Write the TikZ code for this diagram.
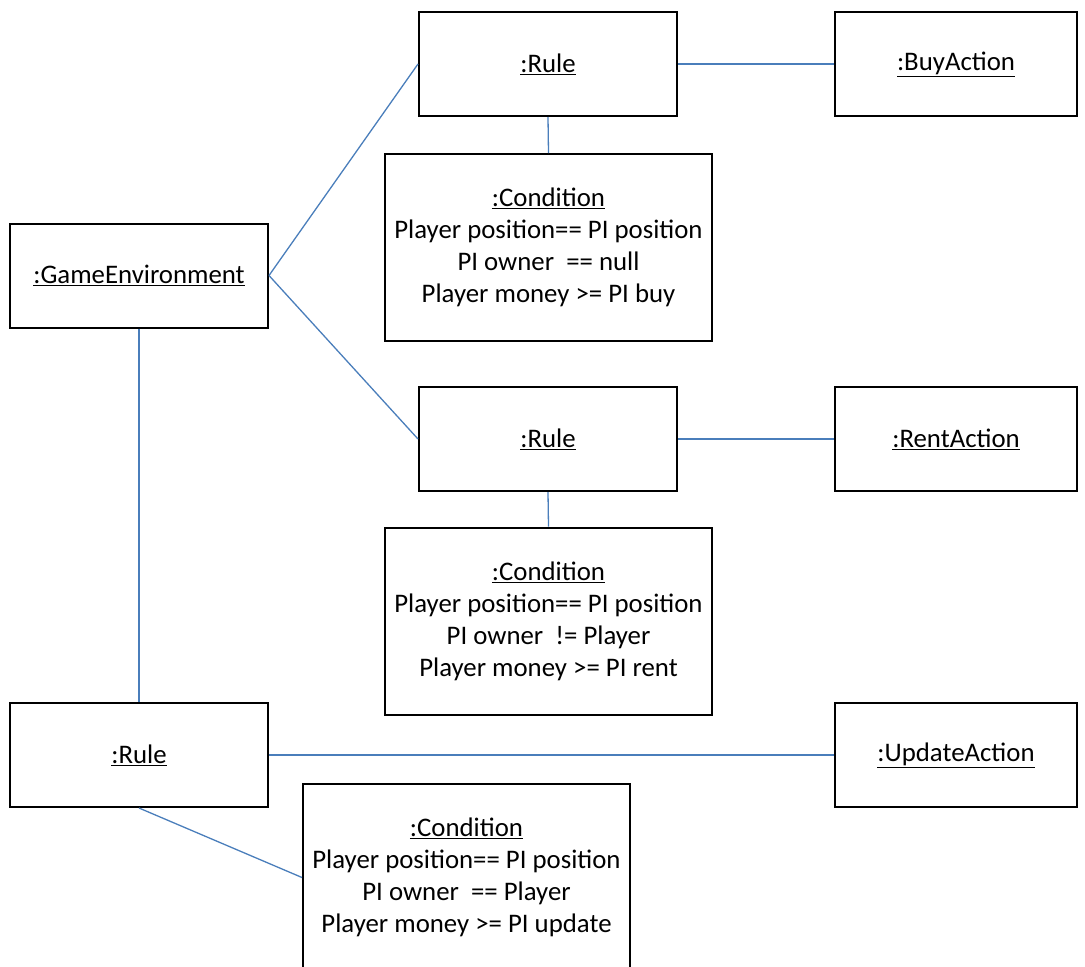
\documentclass[tikz,border=0pt]{standalone}
\usepackage{fontspec}
\setmainfont{Carlito}
\begin{document}
\begin{tikzpicture}[x=1pt,y=-1pt,
  obj/.style={draw=black, line width=2pt, fill=white, inner sep=0pt, align=center,
    font=\fontsize{26.8}{32}\selectfont},
  rulebox/.style={obj, minimum width=258pt, minimum height=104pt},
  actbox/.style={obj, minimum width=242pt, minimum height=104pt},
  condbox/.style={obj, minimum width=327pt, minimum height=187pt},
  link/.style={draw=linkblue, line width=1.3pt}]
\definecolor{linkblue}{HTML}{4A7EBB}
\useasboundingbox (0,0) rectangle (1085,967);
\clip (0,0) rectangle (1085,967);

% object boxes
\node[rulebox] (ge)    at (139,275.5) {\underline{:GameEnvironment}};
\node[rulebox] (rule1) at (548,64)    {\underline{:Rule}};
\node[actbox]  (buy)   at (956,64)    {\underline{:BuyAction}};
\node[condbox] (cond1) at (548.5,247.5) {\underline{:Condition}\\Player position== PI position\\PI owner \ == null\\Player money >= PI buy};
\node[rulebox] (rule2) at (548,439)   {\underline{:Rule}};
\node[actbox]  (rent)  at (956,439)   {\underline{:RentAction}};
\node[condbox] (cond2) at (548.5,621) {\underline{:Condition}\\Player position== PI position\\PI owner \ != Player\\Player money >= PI rent};
\node[rulebox] (rule3) at (139,755)   {\underline{:Rule}};
\node[actbox]  (upd)   at (956,755)   {\underline{:UpdateAction}};
\node[condbox] (cond3) at (466.5,877.5) {\underline{:Condition}\\Player position== PI position\\PI owner \ == Player\\Player money >= PI update};

% links
\draw[link] (ge.east) -- (rule1.west);
\draw[link] (ge.east) -- (rule2.west);
\draw[link] (ge.south) -- (rule3.north);
\draw[link] (rule1.east) -- (buy.west);
\draw[link] (rule1.south) -- (cond1.north);
\draw[link] (rule2.east) -- (rent.west);
\draw[link] (rule2.south) -- (cond2.north);
\draw[link] (rule3.east) -- (upd.west);
\draw[link] (rule3.south) -- (cond3.west);
\end{tikzpicture}
\end{document}
